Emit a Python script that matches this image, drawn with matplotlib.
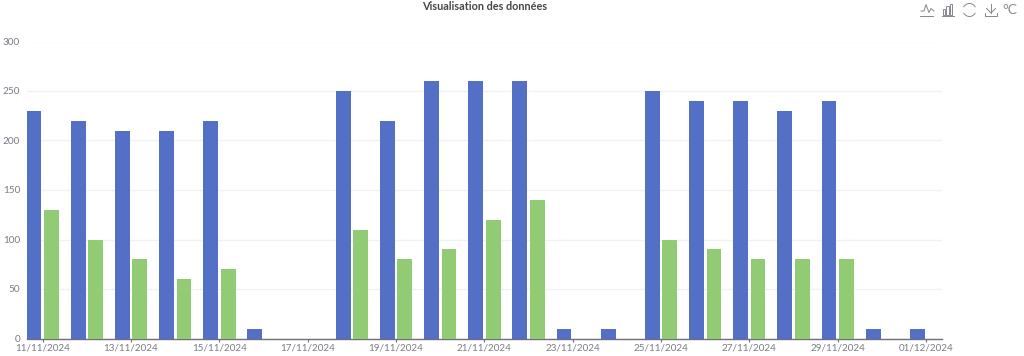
import numpy as np
import matplotlib
matplotlib.use("Agg")
import matplotlib.pyplot as plt
from matplotlib.patches import Arc, Rectangle

dates = ["11/11/2024","12/11/2024","13/11/2024","14/11/2024","15/11/2024","16/11/2024","17/11/2024",
         "18/11/2024","19/11/2024","20/11/2024","21/11/2024","22/11/2024","23/11/2024","24/11/2024",
         "25/11/2024","26/11/2024","27/11/2024","28/11/2024","29/11/2024","30/11/2024","01/12/2024"]
blue_values = [230,220,210,210,220,10,0,250,220,260,260,260,10,10,250,240,240,230,240,10,10]
green_values = [130,100,80,60,70,0,0,110,80,90,120,140,0,0,100,90,80,80,80,0,0]
y_ticks = [0,50,100,150,200,250,300]
title = "Visualisation des données"

plt.rcParams['font.family'] = ['Lato', 'DejaVu Sans']
W, H = 1024, 356
fig = plt.figure(figsize=(W/100, H/100), dpi=100, facecolor='white')
L, R, T, B = 26.5, 942, 41.5, 338.5
ax = fig.add_axes([L/W, 1-B/H, (R-L)/W, (B-T)/H])
x = np.arange(len(dates))
ax.bar(x-0.195, blue_values, width=0.335, color='#5470c6', zorder=3)
ax.bar(x+0.2, green_values, width=0.335, color='#91cc75', zorder=3)
step = 44.16
first = 42.7
ax.set_xlim((L-first)/step, (R-first)/step)
ax.set_ylim(0, 300)
ax.set_yticks(y_ticks)
ax.set_xticks(x[::2])
ax.set_xticklabels(dates[::2])
ax.grid(axis='y', color='#eef1f5', lw=1, zorder=0)
for s in ['top','right','left']:
    ax.spines[s].set_visible(False)
ax.spines['bottom'].set_color('#6e7079')
ax.spines['bottom'].set_linewidth(1)
ax.tick_params(axis='y', length=0, labelsize=7.2, labelcolor='#7a7c84', pad=4.5)
ax.tick_params(axis='x', length=2.2, color='#6e7079', labelsize=7.1, labelcolor='#7a7c84', pad=1.2)
fig.text(484.5/W, 1-6/H, title, ha='center', va='center', fontsize=7.8, fontweight='bold', color='#464646')

# toolbox icons in pixel space
ov = fig.add_axes([0,0,1,1]); ov.set_xlim(0,W); ov.set_ylim(H,0); ov.axis('off'); ov.patch.set_alpha(0)
ic = '#85888f'
ov.plot([921,924,926,929,931,934],[11,11,4.5,12.5,8.5,11],color=ic,lw=0.7)
ov.plot([920,933],[15.5,15.5],color=ic,lw=0.7)
for bx,h in [(942.5,6),(946,9),(949.5,11)]:
    ov.add_patch(Rectangle((bx,15-h),2.6,h,fill=False,ec=ic,lw=0.7))
ov.plot([942,954],[15.5,15.5],color=ic,lw=0.7)
ov.add_patch(Arc((969.5,10),13,13,theta1=205,theta2=335,color=ic,lw=0.7))
ov.add_patch(Arc((969.5,10),13,13,theta1=25,theta2=155,color=ic,lw=0.7))
ov.plot([991,991],[4,12.5],color=ic,lw=0.7)
ov.plot([986.5,991,995.5],[8.5,13,8.5],color=ic,lw=0.7)
ov.plot([985,985,997,997],[12.5,15.5,15.5,12.5],color=ic,lw=0.7)
ov.text(1010,10,"°C",ha='center',va='center',fontsize=10,color=ic)
fig.savefig("out.png", dpi=100)
